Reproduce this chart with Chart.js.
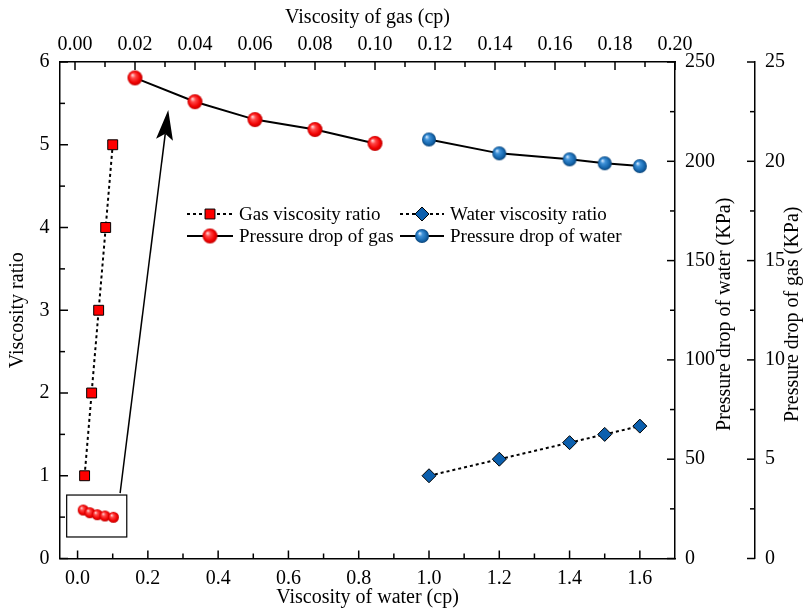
<!DOCTYPE html>
<html>
<head>
<meta charset="utf-8">
<script src="https://cdn.jsdelivr.net/npm/chart.js@4.4.1/dist/chart.umd.min.js"></script>
<style>
  html, body { margin: 0; padding: 0; background: #fff; }
  canvas { display: block; }
</style>
</head>
<body>
<canvas id="chart" width="803" height="610"></canvas>
<script>
// water: bottom axis, gas: top axis
const waterVisc = [1.0, 1.2, 1.4, 1.5, 1.6];
const waterRatio = [1.0, 1.2, 1.4, 1.5, 1.6];
const waterDrop = [211.0, 204.0, 201.0, 199.0, 197.6];

const gasVisc = [0.02, 0.04, 0.06, 0.08, 0.10];
const gasRatio = [1, 2, 3, 4, 5];
const gasDrop = [24.2, 23.0, 22.1, 21.6, 20.9];

const waterTicks = [0, 0.2, 0.4, 0.6, 0.8, 1.0, 1.2, 1.4, 1.6];
const gasTicks = [0, 0.02, 0.04, 0.06, 0.08, 0.10, 0.12, 0.14, 0.16, 0.18, 0.20];
const ratioTicks = [0, 1, 2, 3, 4, 5, 6];
const waterDropTicks = [0, 50, 100, 150, 200, 250];
const gasDropTicks = [0, 5, 10, 15, 20, 25];

// small zoom box near the origin (bottom / left axis units)
const insetX = [0.016, 0.035, 0.056, 0.078, 0.102];
const insetY = [0.586, 0.553, 0.529, 0.514, 0.498];
const insetBox = { x0: -0.031, x1: 0.14, y0: 0.26, y1: 0.767 };
const arrowFrom = { x: 0.121, y: 0.79 };
const arrowTo = { x: 0.258, y: 5.42 };

const FONT = "'Liberation Serif', 'Times New Roman', serif";
Chart.defaults.font.family = FONT;
Chart.defaults.color = '#000';

const pts = (xs, ys) => xs.map((x, i) => ({ x, y: ys[i] }));
const mids = arr => arr.slice(1).map((v, i) => (v + arr[i]) / 2);
const asTicks = arr => s => { s.ticks = arr.map(v => ({ value: v })); };

// shaded ball marker
function ball(r, stops) {
  const cv = document.createElement('canvas');
  const s = Math.ceil(r * 2) + 2;
  cv.width = cv.height = s;
  const g = cv.getContext('2d');
  const m = s / 2;
  const grad = g.createRadialGradient(m - r * 0.35, m - r * 0.4, r * 0.05, m, m, r);
  stops.forEach((c, i) => grad.addColorStop([0, 0.3, 0.75, 1][i], c));
  g.fillStyle = grad;
  g.beginPath();
  g.arc(m, m, r, 0, Math.PI * 2);
  g.fill();
  return cv;
}
const RED = ['#ffd6d6', '#ff4646', '#f00000', '#c00000'];
const BLUE = ['#d2e8ff', '#3f92d8', '#1566ad', '#0b4478'];
const redBall = ball(7.5, RED);
const blueBall = ball(7, BLUE);
const smallRed = ball(5.5, RED);

const axisFont = { size: 20 };
const tickBase = { autoSkip: false, maxRotation: 0, minRotation: 0, color: '#000', font: axisFont };
const noGrid = { display: false, drawTicks: false };
const border = { display: true, color: '#000', width: 1.5 };

// inward major/minor tick marks on every axis
const tickMarks = {
  id: 'tickMarks',
  afterDraw(chart) {
    const { ctx, chartArea: a, scales } = chart;
    ctx.save();
    ctx.strokeStyle = '#000';
    ctx.lineWidth = 1.5;
    const mark = (scale, vals, len) => vals.forEach(v => {
      const p = scale.getPixelForValue(v);
      ctx.beginPath();
      if (scale.isHorizontal()) {
        const y0 = scale.position === 'bottom' ? a.bottom : a.top;
        const d = scale.position === 'bottom' ? -len : len;
        ctx.moveTo(p, y0); ctx.lineTo(p, y0 + d);
      } else {
        const x0 = scale.position === 'left' ? scale.right : scale.left;
        const d = scale.position === 'left' ? len : -len;
        ctx.moveTo(x0, p); ctx.lineTo(x0 + d, p);
      }
      ctx.stroke();
    });
    [[scales.x, waterTicks], [scales.x2, gasTicks], [scales.y, ratioTicks],
     [scales.y1, waterDropTicks], [scales.y2, gasDropTicks]].forEach(([s, t]) => {
      mark(s, t, 8);
      mark(s, mids(t), 5);
    });
    ctx.restore();
  }
};

// right-hand axis titles, reading upwards
const rightTitles = {
  id: 'rightTitles',
  afterDraw(chart) {
    const { ctx, chartArea: a, scales } = chart;
    const cy = (a.top + a.bottom) / 2 + 4;
    ctx.save();
    ctx.font = '20px ' + FONT;
    ctx.fillStyle = '#000';
    ctx.textAlign = 'center';
    ctx.textBaseline = 'middle';
    [[scales.y1.right - 30, 'Pressure drop of water (KPa)'],
     [scales.y2.right - 10, 'Pressure drop of gas (KPa)']].forEach(([x, t]) => {
      ctx.save();
      ctx.translate(x, cy);
      ctx.rotate(-Math.PI / 2);
      ctx.fillText(t, 0, 0);
      ctx.restore();
    });
    ctx.restore();
  }
};

// zoom box with arrow pointing at the gas pressure curve
const insetArrow = {
  id: 'insetArrow',
  afterDatasetsDraw(chart) {
    const { ctx, scales: { x, y } } = chart;
    ctx.save();
    ctx.strokeStyle = '#000';
    ctx.lineWidth = 1.2;
    const bx0 = x.getPixelForValue(insetBox.x0), bx1 = x.getPixelForValue(insetBox.x1);
    const by0 = y.getPixelForValue(insetBox.y0), by1 = y.getPixelForValue(insetBox.y1);
    ctx.fillStyle = '#fff';
    ctx.fillRect(bx0, by1, bx1 - bx0, by0 - by1);
    ctx.strokeRect(bx0, by1, bx1 - bx0, by0 - by1);
    insetX.forEach((vx, i) => {
      const px = x.getPixelForValue(vx), py = y.getPixelForValue(insetY[i]);
      ctx.drawImage(smallRed, px - smallRed.width / 2, py - smallRed.height / 2);
    });

    const sx = x.getPixelForValue(arrowFrom.x), sy = y.getPixelForValue(arrowFrom.y);
    const tx = x.getPixelForValue(arrowTo.x), ty = y.getPixelForValue(arrowTo.y);
    const len = Math.hypot(tx - sx, ty - sy);
    const ux = (tx - sx) / len, uy = (ty - sy) / len;
    const nx = -uy, ny = ux;
    const head = 30, half = 8.5, notch = 24;
    ctx.fillStyle = '#000';
    ctx.lineWidth = 1.5;
    ctx.beginPath();
    ctx.moveTo(sx, sy);
    ctx.lineTo(tx - ux * notch, ty - uy * notch);
    ctx.stroke();
    ctx.beginPath();
    ctx.moveTo(tx, ty);
    ctx.lineTo(tx - ux * head + nx * half, ty - uy * head + ny * half);
    ctx.lineTo(tx - ux * notch, ty - uy * notch);
    ctx.lineTo(tx - ux * head - nx * half, ty - uy * head - ny * half);
    ctx.closePath();
    ctx.fill();
    ctx.restore();
  }
};

// two-column legend inside the plot
const legendBox = {
  id: 'legendBox',
  afterDatasetsDraw(chart) {
    const { ctx } = chart;
    const ds = chart.data.datasets;
    const cols = [{ x0: 187, x1: 233, xt: 239 }, { x0: 400, x1: 444, xt: 450 }];
    const rows = [214, 236];
    ctx.save();
    ctx.font = '19px ' + FONT;
    ctx.textBaseline = 'middle';
    ds.forEach((d, i) => {
      const c = cols[i % 2], yy = rows[Math.floor(i / 2)];
      ctx.strokeStyle = '#000';
      ctx.lineWidth = 2;
      ctx.setLineDash(d.borderDash || []);
      ctx.beginPath();
      ctx.moveTo(c.x0, yy); ctx.lineTo(c.x1, yy);
      ctx.stroke();
      ctx.setLineDash([]);
      const mx = (c.x0 + c.x1) / 2;
      ctx.fillStyle = d.pointBackgroundColor || '#000';
      ctx.lineWidth = 1;
      Chart.helpers.drawPoint(ctx, {
        pointStyle: d.pointStyle, radius: d.pointRadius, rotation: 0, borderWidth: 1
      }, mx, yy);
      ctx.fillStyle = '#000';
      ctx.fillText(d.label, c.xt, yy + 1);
    });
    ctx.restore();
  }
};

new Chart(document.getElementById('chart'), {
  type: 'scatter',
  data: {
    datasets: [
      {
        label: 'Gas viscosity ratio',
        data: pts(gasVisc, gasRatio),
        xAxisID: 'x', yAxisID: 'y',
        showLine: true, borderColor: '#000', borderWidth: 2, borderDash: [3, 3],
        pointStyle: 'rect', pointRadius: 7,
        pointBackgroundColor: '#ff0000', pointBorderColor: '#000', pointBorderWidth: 1
      },
      {
        label: 'Water viscosity ratio',
        data: pts(waterVisc, waterRatio),
        xAxisID: 'x', yAxisID: 'y',
        showLine: true, borderColor: '#000', borderWidth: 2, borderDash: [3, 3],
        pointStyle: 'rectRot', pointRadius: 7,
        pointBackgroundColor: '#0b5fae', pointBorderColor: '#000', pointBorderWidth: 1
      },
      {
        label: 'Pressure drop of gas',
        data: pts(gasVisc, gasDrop),
        xAxisID: 'x2', yAxisID: 'y2',
        showLine: true, borderColor: '#000', borderWidth: 2,
        pointStyle: redBall, pointRadius: 7
      },
      {
        label: 'Pressure drop of water',
        data: pts(waterVisc, waterDrop),
        xAxisID: 'x', yAxisID: 'y1',
        showLine: true, borderColor: '#000', borderWidth: 2,
        pointStyle: blueBall, pointRadius: 7
      }
    ]
  },
  options: {
    responsive: false,
    animation: false,
    layout: { padding: 0 },
    plugins: { legend: { display: false }, tooltip: { enabled: false } },
    scales: {
      x: {
        type: 'linear', position: 'bottom', min: -0.05, max: 1.7,
        afterBuildTicks: asTicks(waterTicks),
        ticks: { ...tickBase, padding: 8, callback: v => v.toFixed(1) },
        grid: noGrid, border,
        title: { display: true, text: 'Viscosity of water (cp)', font: axisFont, color: '#000', padding: { top: 0, bottom: 0 } },
        afterFit: s => { s.height = 51.5; }
      },
      x2: {
        type: 'linear', position: 'top', min: -0.005, max: 0.20,
        afterBuildTicks: asTicks(gasTicks),
        ticks: { ...tickBase, padding: 5, callback: v => v.toFixed(2) },
        grid: noGrid, border,
        title: { display: true, text: 'Viscosity of gas (cp)', font: axisFont, color: '#000', padding: { top: 6, bottom: 0 } },
        afterFit: s => { s.height = 62; }
      },
      y: {
        type: 'linear', position: 'left', min: 0, max: 6,
        afterBuildTicks: asTicks(ratioTicks),
        ticks: { ...tickBase, padding: 10.5, callback: v => String(v) },
        grid: noGrid, border,
        title: { display: true, text: 'Viscosity ratio', font: axisFont, color: '#000', padding: { top: 6, bottom: 0 } },
        afterFit: s => { s.width = 60; }
      },
      y1: {
        type: 'linear', position: 'right', min: 0, max: 250, weight: 0,
        afterBuildTicks: asTicks(waterDropTicks),
        ticks: { ...tickBase, padding: 10, callback: v => String(v) },
        grid: noGrid, border,
        afterFit: s => { s.width = 80; }
      },
      y2: {
        type: 'linear', position: 'right', min: 0, max: 25, weight: 1,
        afterBuildTicks: asTicks(gasDropTicks),
        ticks: { ...tickBase, padding: 10, callback: v => String(v) },
        grid: noGrid, border,
        afterFit: s => { s.width = 48; }
      }
    }
  },
  plugins: [tickMarks, rightTitles, insetArrow, legendBox]
});
</script>
</body>
</html>
